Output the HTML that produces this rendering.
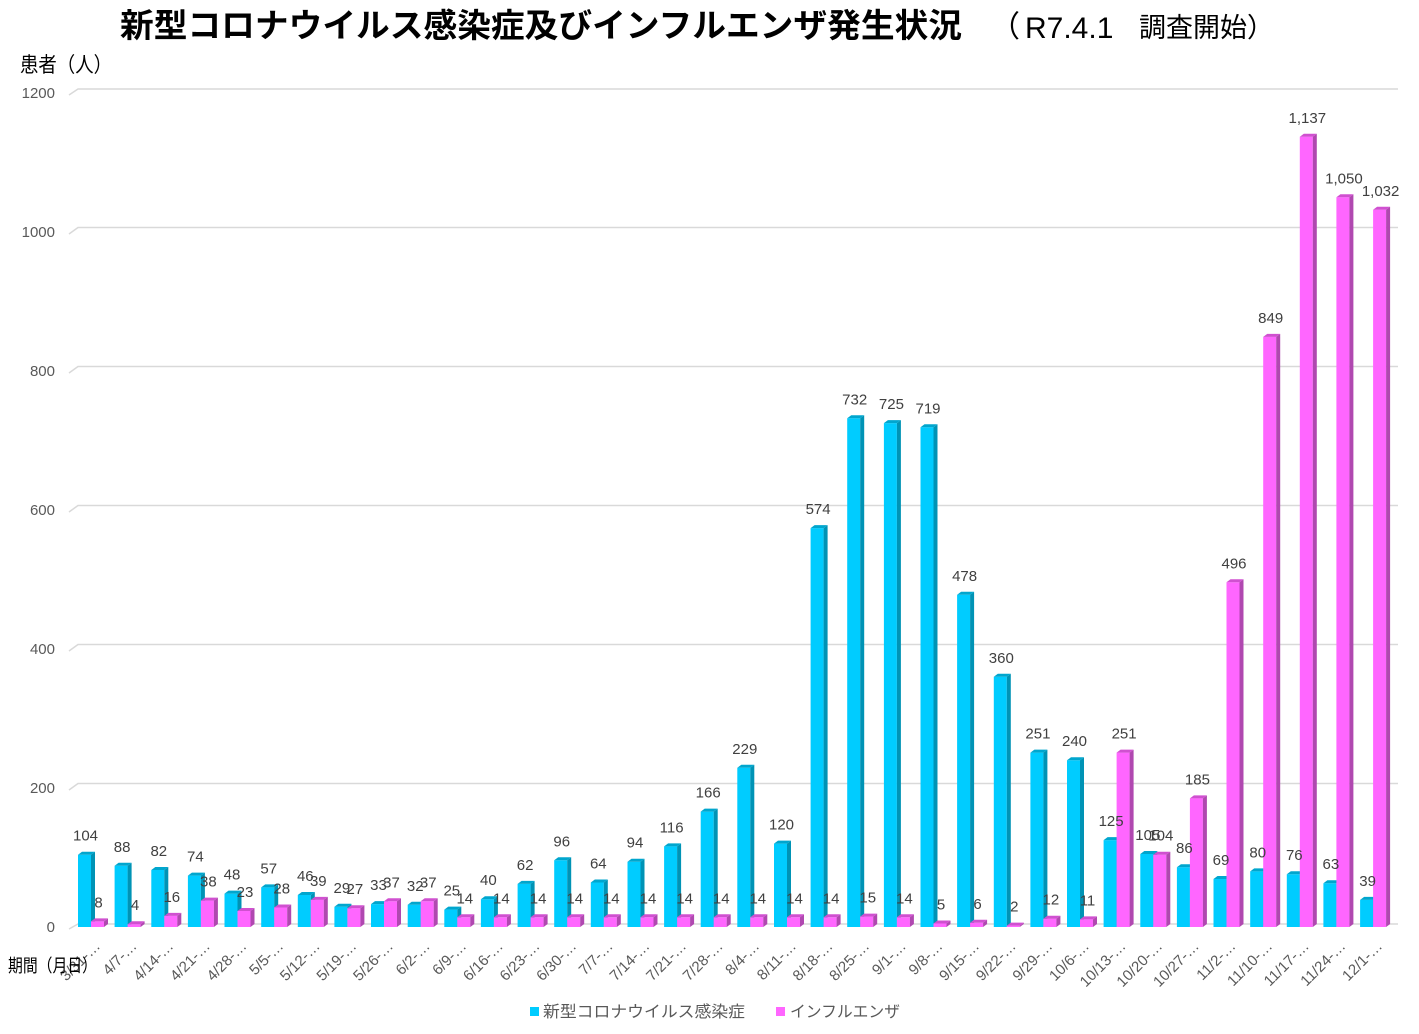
<!DOCTYPE html>
<html><head><meta charset="utf-8"><style>
html,body{margin:0;padding:0;background:#fff;}
svg{display:block}
.cf{fill:#00CCFF}.cs{fill:#0093B5}.ct{fill:#00A6CE}
.mf{fill:#FF66FF}.ms{fill:#B048B0}.mt{fill:#D050D0}
.v{font-family:"Liberation Sans",sans-serif;font-size:15px;fill:#404040;text-anchor:middle}
.x{font-family:"Liberation Sans",sans-serif;font-size:15px;fill:#595959;text-anchor:end}
.y{font-family:"Liberation Sans",sans-serif;font-size:15px;fill:#595959;text-anchor:end}
.g{stroke:#D9D9D9;stroke-width:1.5;fill:none}
.jp{font-family:"Liberation Sans","Noto Sans CJK JP",sans-serif}
</style></head><body>
<svg width="1419" height="1034" viewBox="0 0 1419 1034" xmlns="http://www.w3.org/2000/svg">
<rect width="1419" height="1034" fill="#fff"/>
<!-- title -->
<text class="jp" x="120" y="37" font-size="33" font-weight="bold" fill="#000" textLength="842" lengthAdjust="spacingAndGlyphs">新型コロナウイルス感染症及びインフルエンザ発生状況</text>
<text class="jp" x="990" y="37" font-size="30" fill="#000">（</text>
<text x="1025" y="38" font-family="Liberation Sans,sans-serif" font-size="30" fill="#000">R7.4.1</text>
<text class="jp" x="1139" y="37" font-size="27" fill="#000">調査開始）</text>
<text class="jp" x="20" y="72" font-size="21" fill="#000" textLength="92" lengthAdjust="spacingAndGlyphs">患者（人）</text>
<!-- gridlines -->
<path class="g" d="M69 95 L78 89 H1398"/>
<path class="g" d="M69 234 L78 227.5 H1398"/>
<path class="g" d="M69 373 L78 366.5 H1398"/>
<path class="g" d="M69 512 L78 505.5 H1398"/>
<path class="g" d="M69 651 L78 644.5 H1398"/>
<path class="g" d="M69 790 L78 783.5 H1398"/>
<path class="g" d="M69 929 L78 924 H1398"/>
<!-- y labels -->
<text class="y" x="55" y="98">1200</text>
<text class="y" x="55" y="237">1000</text>
<text class="y" x="55" y="376">800</text>
<text class="y" x="55" y="515">600</text>
<text class="y" x="55" y="654">400</text>
<text class="y" x="55" y="793">200</text>
<text class="y" x="55" y="932">0</text>
<!-- bars -->
<g transform="translate(78,0)"><path class="cf" d="M0 854.7h13V927H0z"/><path class="cs" d="M13 854.7l4 -3V924l-4 3z"/><path class="ct" d="M0 854.7l4 -3h13l-4 3z"/><path class="mf" d="M13 921.4h13V927H13z"/><path class="ms" d="M26 921.4l4 -3V924l-4 3z"/><path class="mt" d="M13 921.4l4 -3h13l-4 3z"/></g>
<g transform="translate(114.6,0)"><path class="cf" d="M0 865.8h13V927H0z"/><path class="cs" d="M13 865.8l4 -3V924l-4 3z"/><path class="ct" d="M0 865.8l4 -3h13l-4 3z"/><path class="mf" d="M13 924.2h13V927H13z"/><path class="ms" d="M26 924.2l4 -3V924l-4 3z"/><path class="mt" d="M13 924.2l4 -3h13l-4 3z"/></g>
<g transform="translate(151.3,0)"><path class="cf" d="M0 870h13V927H0z"/><path class="cs" d="M13 870l4 -3V924l-4 3z"/><path class="ct" d="M0 870l4 -3h13l-4 3z"/><path class="mf" d="M13 915.9h13V927H13z"/><path class="ms" d="M26 915.9l4 -3V924l-4 3z"/><path class="mt" d="M13 915.9l4 -3h13l-4 3z"/></g>
<g transform="translate(187.9,0)"><path class="cf" d="M0 875.6h13V927H0z"/><path class="cs" d="M13 875.6l4 -3V924l-4 3z"/><path class="ct" d="M0 875.6l4 -3h13l-4 3z"/><path class="mf" d="M13 900.6h13V927H13z"/><path class="ms" d="M26 900.6l4 -3V924l-4 3z"/><path class="mt" d="M13 900.6l4 -3h13l-4 3z"/></g>
<g transform="translate(224.5,0)"><path class="cf" d="M0 893.6h13V927H0z"/><path class="cs" d="M13 893.6l4 -3V924l-4 3z"/><path class="ct" d="M0 893.6l4 -3h13l-4 3z"/><path class="mf" d="M13 911h13V927H13z"/><path class="ms" d="M26 911l4 -3V924l-4 3z"/><path class="mt" d="M13 911l4 -3h13l-4 3z"/></g>
<g transform="translate(261.2,0)"><path class="cf" d="M0 887.4h13V927H0z"/><path class="cs" d="M13 887.4l4 -3V924l-4 3z"/><path class="ct" d="M0 887.4l4 -3h13l-4 3z"/><path class="mf" d="M13 907.5h13V927H13z"/><path class="ms" d="M26 907.5l4 -3V924l-4 3z"/><path class="mt" d="M13 907.5l4 -3h13l-4 3z"/></g>
<g transform="translate(297.8,0)"><path class="cf" d="M0 895h13V927H0z"/><path class="cs" d="M13 895l4 -3V924l-4 3z"/><path class="ct" d="M0 895l4 -3h13l-4 3z"/><path class="mf" d="M13 899.9h13V927H13z"/><path class="ms" d="M26 899.9l4 -3V924l-4 3z"/><path class="mt" d="M13 899.9l4 -3h13l-4 3z"/></g>
<g transform="translate(334.4,0)"><path class="cf" d="M0 906.8h13V927H0z"/><path class="cs" d="M13 906.8l4 -3V924l-4 3z"/><path class="ct" d="M0 906.8l4 -3h13l-4 3z"/><path class="mf" d="M13 908.2h13V927H13z"/><path class="ms" d="M26 908.2l4 -3V924l-4 3z"/><path class="mt" d="M13 908.2l4 -3h13l-4 3z"/></g>
<g transform="translate(371,0)"><path class="cf" d="M0 904.1h13V927H0z"/><path class="cs" d="M13 904.1l4 -3V924l-4 3z"/><path class="ct" d="M0 904.1l4 -3h13l-4 3z"/><path class="mf" d="M13 901.3h13V927H13z"/><path class="ms" d="M26 901.3l4 -3V924l-4 3z"/><path class="mt" d="M13 901.3l4 -3h13l-4 3z"/></g>
<g transform="translate(407.7,0)"><path class="cf" d="M0 904.8h13V927H0z"/><path class="cs" d="M13 904.8l4 -3V924l-4 3z"/><path class="ct" d="M0 904.8l4 -3h13l-4 3z"/><path class="mf" d="M13 901.3h13V927H13z"/><path class="ms" d="M26 901.3l4 -3V924l-4 3z"/><path class="mt" d="M13 901.3l4 -3h13l-4 3z"/></g>
<g transform="translate(444.3,0)"><path class="cf" d="M0 909.6h13V927H0z"/><path class="cs" d="M13 909.6l4 -3V924l-4 3z"/><path class="ct" d="M0 909.6l4 -3h13l-4 3z"/><path class="mf" d="M13 917.3h13V927H13z"/><path class="ms" d="M26 917.3l4 -3V924l-4 3z"/><path class="mt" d="M13 917.3l4 -3h13l-4 3z"/></g>
<g transform="translate(480.9,0)"><path class="cf" d="M0 899.2h13V927H0z"/><path class="cs" d="M13 899.2l4 -3V924l-4 3z"/><path class="ct" d="M0 899.2l4 -3h13l-4 3z"/><path class="mf" d="M13 917.3h13V927H13z"/><path class="ms" d="M26 917.3l4 -3V924l-4 3z"/><path class="mt" d="M13 917.3l4 -3h13l-4 3z"/></g>
<g transform="translate(517.6,0)"><path class="cf" d="M0 883.9h13V927H0z"/><path class="cs" d="M13 883.9l4 -3V924l-4 3z"/><path class="ct" d="M0 883.9l4 -3h13l-4 3z"/><path class="mf" d="M13 917.3h13V927H13z"/><path class="ms" d="M26 917.3l4 -3V924l-4 3z"/><path class="mt" d="M13 917.3l4 -3h13l-4 3z"/></g>
<g transform="translate(554.2,0)"><path class="cf" d="M0 860.3h13V927H0z"/><path class="cs" d="M13 860.3l4 -3V924l-4 3z"/><path class="ct" d="M0 860.3l4 -3h13l-4 3z"/><path class="mf" d="M13 917.3h13V927H13z"/><path class="ms" d="M26 917.3l4 -3V924l-4 3z"/><path class="mt" d="M13 917.3l4 -3h13l-4 3z"/></g>
<g transform="translate(590.8,0)"><path class="cf" d="M0 882.5h13V927H0z"/><path class="cs" d="M13 882.5l4 -3V924l-4 3z"/><path class="ct" d="M0 882.5l4 -3h13l-4 3z"/><path class="mf" d="M13 917.3h13V927H13z"/><path class="ms" d="M26 917.3l4 -3V924l-4 3z"/><path class="mt" d="M13 917.3l4 -3h13l-4 3z"/></g>
<g transform="translate(627.5,0)"><path class="cf" d="M0 861.7h13V927H0z"/><path class="cs" d="M13 861.7l4 -3V924l-4 3z"/><path class="ct" d="M0 861.7l4 -3h13l-4 3z"/><path class="mf" d="M13 917.3h13V927H13z"/><path class="ms" d="M26 917.3l4 -3V924l-4 3z"/><path class="mt" d="M13 917.3l4 -3h13l-4 3z"/></g>
<g transform="translate(664.1,0)"><path class="cf" d="M0 846.4h13V927H0z"/><path class="cs" d="M13 846.4l4 -3V924l-4 3z"/><path class="ct" d="M0 846.4l4 -3h13l-4 3z"/><path class="mf" d="M13 917.3h13V927H13z"/><path class="ms" d="M26 917.3l4 -3V924l-4 3z"/><path class="mt" d="M13 917.3l4 -3h13l-4 3z"/></g>
<g transform="translate(700.7,0)"><path class="cf" d="M0 811.6h13V927H0z"/><path class="cs" d="M13 811.6l4 -3V924l-4 3z"/><path class="ct" d="M0 811.6l4 -3h13l-4 3z"/><path class="mf" d="M13 917.3h13V927H13z"/><path class="ms" d="M26 917.3l4 -3V924l-4 3z"/><path class="mt" d="M13 917.3l4 -3h13l-4 3z"/></g>
<g transform="translate(737.3,0)"><path class="cf" d="M0 767.8h13V927H0z"/><path class="cs" d="M13 767.8l4 -3V924l-4 3z"/><path class="ct" d="M0 767.8l4 -3h13l-4 3z"/><path class="mf" d="M13 917.3h13V927H13z"/><path class="ms" d="M26 917.3l4 -3V924l-4 3z"/><path class="mt" d="M13 917.3l4 -3h13l-4 3z"/></g>
<g transform="translate(774,0)"><path class="cf" d="M0 843.6h13V927H0z"/><path class="cs" d="M13 843.6l4 -3V924l-4 3z"/><path class="ct" d="M0 843.6l4 -3h13l-4 3z"/><path class="mf" d="M13 917.3h13V927H13z"/><path class="ms" d="M26 917.3l4 -3V924l-4 3z"/><path class="mt" d="M13 917.3l4 -3h13l-4 3z"/></g>
<g transform="translate(810.6,0)"><path class="cf" d="M0 528.1h13V927H0z"/><path class="cs" d="M13 528.1l4 -3V924l-4 3z"/><path class="ct" d="M0 528.1l4 -3h13l-4 3z"/><path class="mf" d="M13 917.3h13V927H13z"/><path class="ms" d="M26 917.3l4 -3V924l-4 3z"/><path class="mt" d="M13 917.3l4 -3h13l-4 3z"/></g>
<g transform="translate(847.2,0)"><path class="cf" d="M0 418.3h13V927H0z"/><path class="cs" d="M13 418.3l4 -3V924l-4 3z"/><path class="ct" d="M0 418.3l4 -3h13l-4 3z"/><path class="mf" d="M13 916.6h13V927H13z"/><path class="ms" d="M26 916.6l4 -3V924l-4 3z"/><path class="mt" d="M13 916.6l4 -3h13l-4 3z"/></g>
<g transform="translate(883.9,0)"><path class="cf" d="M0 423.1h13V927H0z"/><path class="cs" d="M13 423.1l4 -3V924l-4 3z"/><path class="ct" d="M0 423.1l4 -3h13l-4 3z"/><path class="mf" d="M13 917.3h13V927H13z"/><path class="ms" d="M26 917.3l4 -3V924l-4 3z"/><path class="mt" d="M13 917.3l4 -3h13l-4 3z"/></g>
<g transform="translate(920.5,0)"><path class="cf" d="M0 427.3h13V927H0z"/><path class="cs" d="M13 427.3l4 -3V924l-4 3z"/><path class="ct" d="M0 427.3l4 -3h13l-4 3z"/><path class="mf" d="M13 923.5h13V927H13z"/><path class="ms" d="M26 923.5l4 -3V924l-4 3z"/><path class="mt" d="M13 923.5l4 -3h13l-4 3z"/></g>
<g transform="translate(957.1,0)"><path class="cf" d="M0 594.8h13V927H0z"/><path class="cs" d="M13 594.8l4 -3V924l-4 3z"/><path class="ct" d="M0 594.8l4 -3h13l-4 3z"/><path class="mf" d="M13 922.8h13V927H13z"/><path class="ms" d="M26 922.8l4 -3V924l-4 3z"/><path class="mt" d="M13 922.8l4 -3h13l-4 3z"/></g>
<g transform="translate(993.8,0)"><path class="cf" d="M0 676.8h13V927H0z"/><path class="cs" d="M13 676.8l4 -3V924l-4 3z"/><path class="ct" d="M0 676.8l4 -3h13l-4 3z"/><path class="mf" d="M13 925.6h13V927H13z"/><path class="ms" d="M26 925.6l4 -3V924l-4 3z"/><path class="mt" d="M13 925.6l4 -3h13l-4 3z"/></g>
<g transform="translate(1030.4,0)"><path class="cf" d="M0 752.6h13V927H0z"/><path class="cs" d="M13 752.6l4 -3V924l-4 3z"/><path class="ct" d="M0 752.6l4 -3h13l-4 3z"/><path class="mf" d="M13 918.7h13V927H13z"/><path class="ms" d="M26 918.7l4 -3V924l-4 3z"/><path class="mt" d="M13 918.7l4 -3h13l-4 3z"/></g>
<g transform="translate(1067,0)"><path class="cf" d="M0 760.2h13V927H0z"/><path class="cs" d="M13 760.2l4 -3V924l-4 3z"/><path class="ct" d="M0 760.2l4 -3h13l-4 3z"/><path class="mf" d="M13 919.4h13V927H13z"/><path class="ms" d="M26 919.4l4 -3V924l-4 3z"/><path class="mt" d="M13 919.4l4 -3h13l-4 3z"/></g>
<g transform="translate(1103.6,0)"><path class="cf" d="M0 840.1h13V927H0z"/><path class="cs" d="M13 840.1l4 -3V924l-4 3z"/><path class="ct" d="M0 840.1l4 -3h13l-4 3z"/><path class="mf" d="M13 752.6h13V927H13z"/><path class="ms" d="M26 752.6l4 -3V924l-4 3z"/><path class="mt" d="M13 752.6l4 -3h13l-4 3z"/></g>
<g transform="translate(1140.3,0)"><path class="cf" d="M0 854h13V927H0z"/><path class="cs" d="M13 854l4 -3V924l-4 3z"/><path class="ct" d="M0 854l4 -3h13l-4 3z"/><path class="mf" d="M13 854.7h13V927H13z"/><path class="ms" d="M26 854.7l4 -3V924l-4 3z"/><path class="mt" d="M13 854.7l4 -3h13l-4 3z"/></g>
<g transform="translate(1176.9,0)"><path class="cf" d="M0 867.2h13V927H0z"/><path class="cs" d="M13 867.2l4 -3V924l-4 3z"/><path class="ct" d="M0 867.2l4 -3h13l-4 3z"/><path class="mf" d="M13 798.4h13V927H13z"/><path class="ms" d="M26 798.4l4 -3V924l-4 3z"/><path class="mt" d="M13 798.4l4 -3h13l-4 3z"/></g>
<g transform="translate(1213.5,0)"><path class="cf" d="M0 879h13V927H0z"/><path class="cs" d="M13 879l4 -3V924l-4 3z"/><path class="ct" d="M0 879l4 -3h13l-4 3z"/><path class="mf" d="M13 582.3h13V927H13z"/><path class="ms" d="M26 582.3l4 -3V924l-4 3z"/><path class="mt" d="M13 582.3l4 -3h13l-4 3z"/></g>
<g transform="translate(1250.2,0)"><path class="cf" d="M0 871.4h13V927H0z"/><path class="cs" d="M13 871.4l4 -3V924l-4 3z"/><path class="ct" d="M0 871.4l4 -3h13l-4 3z"/><path class="mf" d="M13 336.9h13V927H13z"/><path class="ms" d="M26 336.9l4 -3V924l-4 3z"/><path class="mt" d="M13 336.9l4 -3h13l-4 3z"/></g>
<g transform="translate(1286.8,0)"><path class="cf" d="M0 874.2h13V927H0z"/><path class="cs" d="M13 874.2l4 -3V924l-4 3z"/><path class="ct" d="M0 874.2l4 -3h13l-4 3z"/><path class="mf" d="M13 136.8h13V927H13z"/><path class="ms" d="M26 136.8l4 -3V924l-4 3z"/><path class="mt" d="M13 136.8l4 -3h13l-4 3z"/></g>
<g transform="translate(1323.4,0)"><path class="cf" d="M0 883.2h13V927H0z"/><path class="cs" d="M13 883.2l4 -3V924l-4 3z"/><path class="ct" d="M0 883.2l4 -3h13l-4 3z"/><path class="mf" d="M13 197.3h13V927H13z"/><path class="ms" d="M26 197.3l4 -3V924l-4 3z"/><path class="mt" d="M13 197.3l4 -3h13l-4 3z"/></g>
<g transform="translate(1360.1,0)"><path class="cf" d="M0 899.9h13V927H0z"/><path class="cs" d="M13 899.9l4 -3V924l-4 3z"/><path class="ct" d="M0 899.9l4 -3h13l-4 3z"/><path class="mf" d="M13 209.8h13V927H13z"/><path class="ms" d="M26 209.8l4 -3V924l-4 3z"/><path class="mt" d="M13 209.8l4 -3h13l-4 3z"/></g>
<!-- labels -->
<g transform="translate(78,0)"><text class="v" x="7.5" y="840.7">104</text><text class="v" x="20.5" y="907.4">8</text><text class="x" transform="translate(23,947) rotate(-45)">3/31-…</text></g>
<g transform="translate(114.6,0)"><text class="v" x="7.5" y="851.8">88</text><text class="v" x="20.5" y="910.2">4</text><text class="x" transform="translate(23,947) rotate(-45)">4/7-…</text></g>
<g transform="translate(151.3,0)"><text class="v" x="7.5" y="856">82</text><text class="v" x="20.5" y="901.9">16</text><text class="x" transform="translate(23,947) rotate(-45)">4/14-…</text></g>
<g transform="translate(187.9,0)"><text class="v" x="7.5" y="861.6">74</text><text class="v" x="20.5" y="886.6">38</text><text class="x" transform="translate(23,947) rotate(-45)">4/21-…</text></g>
<g transform="translate(224.5,0)"><text class="v" x="7.5" y="879.6">48</text><text class="v" x="20.5" y="897">23</text><text class="x" transform="translate(23,947) rotate(-45)">4/28-…</text></g>
<g transform="translate(261.2,0)"><text class="v" x="7.5" y="873.4">57</text><text class="v" x="20.5" y="893.5">28</text><text class="x" transform="translate(23,947) rotate(-45)">5/5-…</text></g>
<g transform="translate(297.8,0)"><text class="v" x="7.5" y="881">46</text><text class="v" x="20.5" y="885.9">39</text><text class="x" transform="translate(23,947) rotate(-45)">5/12-…</text></g>
<g transform="translate(334.4,0)"><text class="v" x="7.5" y="892.8">29</text><text class="v" x="20.5" y="894.2">27</text><text class="x" transform="translate(23,947) rotate(-45)">5/19-…</text></g>
<g transform="translate(371,0)"><text class="v" x="7.5" y="890.1">33</text><text class="v" x="20.5" y="887.3">37</text><text class="x" transform="translate(23,947) rotate(-45)">5/26-…</text></g>
<g transform="translate(407.7,0)"><text class="v" x="7.5" y="890.8">32</text><text class="v" x="20.5" y="887.3">37</text><text class="x" transform="translate(23,947) rotate(-45)">6/2-…</text></g>
<g transform="translate(444.3,0)"><text class="v" x="7.5" y="895.6">25</text><text class="v" x="20.5" y="903.3">14</text><text class="x" transform="translate(23,947) rotate(-45)">6/9-…</text></g>
<g transform="translate(480.9,0)"><text class="v" x="7.5" y="885.2">40</text><text class="v" x="20.5" y="903.3">14</text><text class="x" transform="translate(23,947) rotate(-45)">6/16-…</text></g>
<g transform="translate(517.6,0)"><text class="v" x="7.5" y="869.9">62</text><text class="v" x="20.5" y="903.3">14</text><text class="x" transform="translate(23,947) rotate(-45)">6/23-…</text></g>
<g transform="translate(554.2,0)"><text class="v" x="7.5" y="846.3">96</text><text class="v" x="20.5" y="903.3">14</text><text class="x" transform="translate(23,947) rotate(-45)">6/30-…</text></g>
<g transform="translate(590.8,0)"><text class="v" x="7.5" y="868.5">64</text><text class="v" x="20.5" y="903.3">14</text><text class="x" transform="translate(23,947) rotate(-45)">7/7-…</text></g>
<g transform="translate(627.5,0)"><text class="v" x="7.5" y="847.7">94</text><text class="v" x="20.5" y="903.3">14</text><text class="x" transform="translate(23,947) rotate(-45)">7/14-…</text></g>
<g transform="translate(664.1,0)"><text class="v" x="7.5" y="832.4">116</text><text class="v" x="20.5" y="903.3">14</text><text class="x" transform="translate(23,947) rotate(-45)">7/21-…</text></g>
<g transform="translate(700.7,0)"><text class="v" x="7.5" y="797.6">166</text><text class="v" x="20.5" y="903.3">14</text><text class="x" transform="translate(23,947) rotate(-45)">7/28-…</text></g>
<g transform="translate(737.3,0)"><text class="v" x="7.5" y="753.8">229</text><text class="v" x="20.5" y="903.3">14</text><text class="x" transform="translate(23,947) rotate(-45)">8/4-…</text></g>
<g transform="translate(774,0)"><text class="v" x="7.5" y="829.6">120</text><text class="v" x="20.5" y="903.3">14</text><text class="x" transform="translate(23,947) rotate(-45)">8/11-…</text></g>
<g transform="translate(810.6,0)"><text class="v" x="7.5" y="514.1">574</text><text class="v" x="20.5" y="903.3">14</text><text class="x" transform="translate(23,947) rotate(-45)">8/18-…</text></g>
<g transform="translate(847.2,0)"><text class="v" x="7.5" y="404.3">732</text><text class="v" x="20.5" y="902.6">15</text><text class="x" transform="translate(23,947) rotate(-45)">8/25-…</text></g>
<g transform="translate(883.9,0)"><text class="v" x="7.5" y="409.1">725</text><text class="v" x="20.5" y="903.3">14</text><text class="x" transform="translate(23,947) rotate(-45)">9/1-…</text></g>
<g transform="translate(920.5,0)"><text class="v" x="7.5" y="413.3">719</text><text class="v" x="20.5" y="909.5">5</text><text class="x" transform="translate(23,947) rotate(-45)">9/8-…</text></g>
<g transform="translate(957.1,0)"><text class="v" x="7.5" y="580.8">478</text><text class="v" x="20.5" y="908.8">6</text><text class="x" transform="translate(23,947) rotate(-45)">9/15-…</text></g>
<g transform="translate(993.8,0)"><text class="v" x="7.5" y="662.8">360</text><text class="v" x="20.5" y="911.6">2</text><text class="x" transform="translate(23,947) rotate(-45)">9/22-…</text></g>
<g transform="translate(1030.4,0)"><text class="v" x="7.5" y="738.6">251</text><text class="v" x="20.5" y="904.7">12</text><text class="x" transform="translate(23,947) rotate(-45)">9/29-…</text></g>
<g transform="translate(1067,0)"><text class="v" x="7.5" y="746.2">240</text><text class="v" x="20.5" y="905.4">11</text><text class="x" transform="translate(23,947) rotate(-45)">10/6-…</text></g>
<g transform="translate(1103.6,0)"><text class="v" x="7.5" y="826.1">125</text><text class="v" x="20.5" y="738.6">251</text><text class="x" transform="translate(23,947) rotate(-45)">10/13-…</text></g>
<g transform="translate(1140.3,0)"><text class="v" x="7.5" y="840">105</text><text class="v" x="20.5" y="840.7">104</text><text class="x" transform="translate(23,947) rotate(-45)">10/20-…</text></g>
<g transform="translate(1176.9,0)"><text class="v" x="7.5" y="853.2">86</text><text class="v" x="20.5" y="784.4">185</text><text class="x" transform="translate(23,947) rotate(-45)">10/27-…</text></g>
<g transform="translate(1213.5,0)"><text class="v" x="7.5" y="865">69</text><text class="v" x="20.5" y="568.3">496</text><text class="x" transform="translate(23,947) rotate(-45)">11/2-…</text></g>
<g transform="translate(1250.2,0)"><text class="v" x="7.5" y="857.4">80</text><text class="v" x="20.5" y="322.9">849</text><text class="x" transform="translate(23,947) rotate(-45)">11/10-…</text></g>
<g transform="translate(1286.8,0)"><text class="v" x="7.5" y="860.2">76</text><text class="v" x="20.5" y="122.8">1,137</text><text class="x" transform="translate(23,947) rotate(-45)">11/17-…</text></g>
<g transform="translate(1323.4,0)"><text class="v" x="7.5" y="869.2">63</text><text class="v" x="20.5" y="183.3">1,050</text><text class="x" transform="translate(23,947) rotate(-45)">11/24-…</text></g>
<g transform="translate(1360.1,0)"><text class="v" x="7.5" y="885.9">39</text><text class="v" x="20.5" y="195.8">1,032</text><text class="x" transform="translate(23,947) rotate(-45)">12/1-…</text></g>
<!-- axis title -->
<text class="jp" x="8" y="972" font-size="18" fill="#000" textLength="89" lengthAdjust="spacingAndGlyphs">期間（月日）</text>
<!-- legend -->
<rect x="530" y="1007" width="9" height="9" fill="#00CCFF"/>
<text class="jp" x="543" y="1017" font-size="16" fill="#595959" textLength="202" lengthAdjust="spacingAndGlyphs">新型コロナウイルス感染症</text>
<rect x="776" y="1007" width="9" height="9" fill="#FF66FF"/>
<text class="jp" x="790" y="1017" font-size="16" fill="#595959" textLength="110" lengthAdjust="spacingAndGlyphs">インフルエンザ</text>
</svg>
</body></html>
